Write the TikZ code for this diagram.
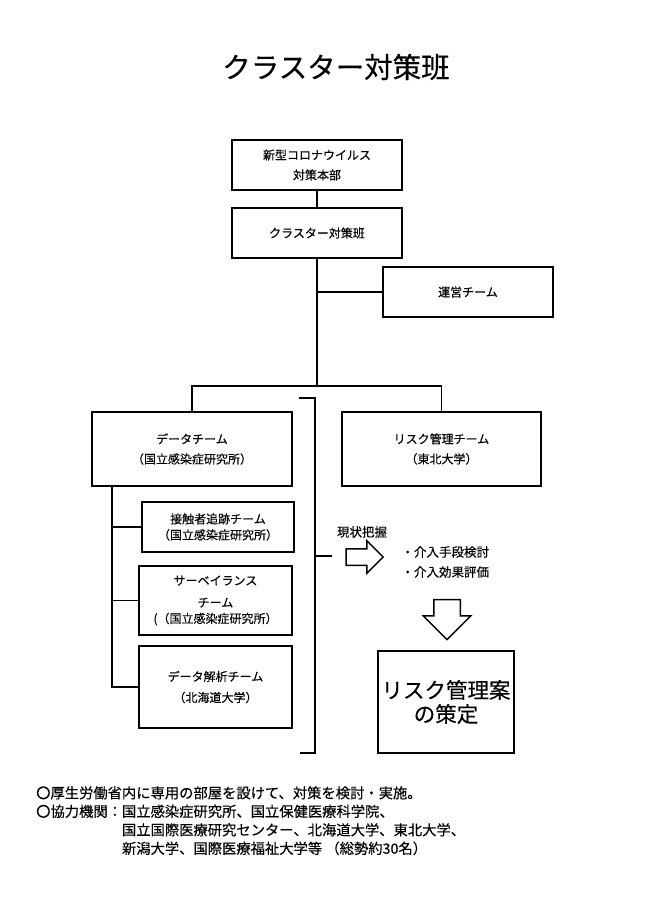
\documentclass[tikz,border=0pt]{standalone}
\usepackage{fontspec}
\setmainfont{Noto Sans CJK JP}[FakeBold=0.3]
\usetikzlibrary{shapes.arrows}
\newcommand\fs[2]{\fontsize{#1}{#2}\selectfont}
\tikzstyle{box} = [draw,line width=1.8pt,inner sep=0pt,align=center,font=\fs{12}{20}]
\tikzstyle{link} = [line width=1.8pt]
\tikzstyle{blockarrow} = [draw,line width=1.5pt,single arrow,single arrow head indent=0pt]

\begin{document}
\begin{tikzpicture}[x=1pt,y=-1pt]
\useasboundingbox (0,0) rectangle (650,919);

\node[font=\fs{28.5}{30}] (title) at (336,67) {クラスター対策班};

\node[box,minimum width=170pt,minimum height=50pt] (honbu) at (317,165) {新型コロナウイルス\\対策本部};
\node[box,minimum width=170pt,minimum height=50pt] (han) at (317,233) {クラスター対策班};
\node[box,minimum width=170pt,minimum height=50pt] (unei) at (468,292) {運営チーム};
\node[box,minimum width=200pt,minimum height=74pt] (data) at (192,449) {データチーム\\（国立感染症研究所）};
\node[box,minimum width=199pt,minimum height=74pt] (risk) at (441.5,449) {リスク管理チーム\\（東北大学）};

\node[box,minimum width=152pt,minimum height=50pt,font=\fs{12}{16}] (track) at (218,527) {接触者追跡チーム\\（国立感染症研究所）};
\node[box,minimum width=153pt,minimum height=69pt,font=\fs{12}{16}] (surv) at (215.5,600.5) {サーベイランス\\[6pt]チーム\\(（国立感染症研究所）};
\node[box,minimum width=153pt,minimum height=82pt,font=\fs{12}{21}] (anal) at (215.5,687) {データ解析チーム\\（北海道大学）};

\draw[link] (honbu) -- (han);
\coordinate (split) at (317,386);
\draw[link] (han) -- (split);
\draw[link] (data.north) |- (split) -| (risk.north);
\draw[link] (unei.west) -- (unei.west -| han.south);
\coordinate (dtrunk) at ([xshift=21pt]data.south west);
\draw[link] (dtrunk) |- (anal.west);
\foreach \s in {track,surv}
  \draw[link] (\s.west) -- (\s.west -| dtrunk);

% bracket
\draw[link] (299,398) -| (315,753) -- (300,753);
\draw[link] (315,556) -- (332,556);

\node[font=\fs{12.5}{15}] (genjo) at (362,532) {現状把握};
\node[blockarrow,inner xsep=0pt,inner ysep=7.5pt,minimum height=37pt,minimum width=31pt,single arrow head extend=8pt] (rarrow) at (360.5,557) {};
\node[anchor=west,align=left,font=\fs{12.5}{20}] (kento) at (398,562) {・介入手段検討\\・介入効果評価};
\node[blockarrow,shape border rotate=270,inner sep=12.5pt,minimum height=40pt,minimum width=46pt,single arrow head extend=10.5pt] (darrow) at (447,613) {};
\node[box,minimum width=136pt,minimum height=102pt,font=\fs{21.5}{24}] (plan) at (446,702) {リスク管理案\\の策定};

\node[anchor=north west,align=left,inner sep=0pt,font=\fs{14.3}{18.5}] (note) at (36,786)
  {〇厚生労働省内に専用の部屋を設けて、対策を検討・実施。\\
   〇協力機関：国立感染症研究所、国立保健医療科学院、\\
   \hspace*{6em}国立国際医療研究センター、北海道大学、東北大学、\\
   \hspace*{6em}新潟大学、国際医療福祉大学等 （総勢約30名）};
\end{tikzpicture}
\end{document}
